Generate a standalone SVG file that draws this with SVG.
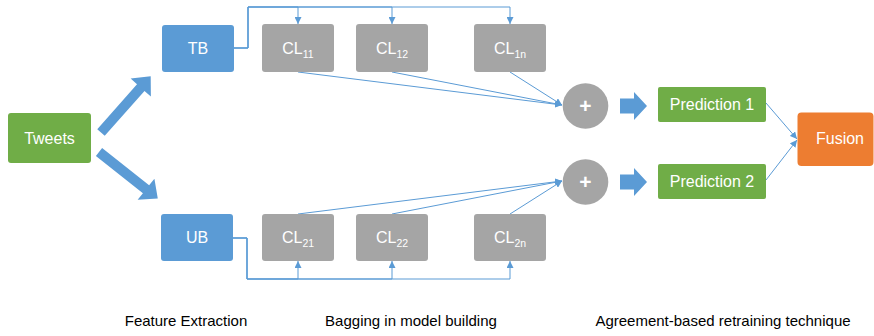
<svg xmlns="http://www.w3.org/2000/svg" width="874" height="336" viewBox="0 0 874 336">
<style>
.lbl{font-family:"Liberation Sans",Arial,sans-serif;font-size:16px;fill:#ffffff;text-anchor:middle}
.sub{font-size:10.5px}
.plus{font-size:21px;font-weight:bold}
.cap{font-family:"Liberation Sans",Arial,sans-serif;font-size:15px;fill:#000000;text-anchor:middle}
.blue{fill:#5B9BD5}
.gray{fill:#A5A5A5}
.green{fill:#70AD47}
.orange{fill:#ED7D31}
.conn{fill:none;stroke:#5B9BD5;stroke-width:1;marker-end:url(#ah)}
.block{fill:#5B9BD5}
</style>
<defs>
<marker id="ah" viewBox="0 0 10 10" refX="10" refY="5" markerWidth="7" markerHeight="7" markerUnits="userSpaceOnUse" orient="auto">
<path d="M0,0 L10,5 L0,10 Z" fill="#5B9BD5"/>
</marker>
<polygon id="diag" points="0,-5 60,-5 60,-13.5 75,0 60,13.5 60,5 0,5"/>
<polygon id="harrow" points="0,-7.5 14,-7.5 14,-14 27,0 14,14 14,7.5 0,7.5"/>
</defs>

<g id="connectors">
<path class="conn" d="M234,48 H248 V7 H298 V24"/>
<path class="conn" d="M234,48 H248 V7 H392 V24"/>
<path class="conn" d="M234,48 H248 V7 H510 V24"/>
<path class="conn" d="M233,238 H247 V279 H298 V261"/>
<path class="conn" d="M233,238 H247 V279 H392 V261"/>
<path class="conn" d="M233,238 H247 V279 H510 V261"/>
<path class="conn" d="M298,72 L562,105"/>
<path class="conn" d="M392,72 L562,105"/>
<path class="conn" d="M510,72 L562,105"/>
<path class="conn" d="M298,214 L562,181"/>
<path class="conn" d="M392,214 L562,181"/>
<path class="conn" d="M510,214 L562,181"/>
<path class="conn" d="M766,103 L797,139"/>
<path class="conn" d="M766,180 L797,140"/>
<use href="#diag" class="block" transform="translate(101,132.5) rotate(-48.5)"/>
<use href="#diag" class="block" transform="translate(99,152) rotate(38.4)"/>
<use href="#harrow" class="block" transform="translate(620,106)"/>
<use href="#harrow" class="block" transform="translate(620,182)"/>
</g>

<g id="tweets">
<rect class="green" x="8" y="113" width="83" height="50" rx="3"/>
<text class="lbl" x="49.5" y="143.5">Tweets</text>
</g>
<g id="tb">
<rect class="blue" x="162" y="25" width="72" height="47" rx="3"/>
<text class="lbl" x="198" y="54">TB</text>
</g>
<g id="ub">
<rect class="blue" x="161" y="214" width="72" height="47" rx="3"/>
<text class="lbl" x="197" y="243">UB</text>
</g>
<g id="cl11">
<rect class="gray" x="262" y="24" width="72" height="48" rx="3"/>
<text class="lbl" x="298" y="54">CL<tspan class="sub" dy="3.5">11</tspan></text>
</g>
<g id="cl12">
<rect class="gray" x="356" y="24" width="72" height="48" rx="3"/>
<text class="lbl" x="392" y="54">CL<tspan class="sub" dy="3.5">12</tspan></text>
</g>
<g id="cl1n">
<rect class="gray" x="474" y="24" width="72" height="48" rx="3"/>
<text class="lbl" x="510" y="54">CL<tspan class="sub" dy="3.5">1n</tspan></text>
</g>
<g id="cl21">
<rect class="gray" x="262" y="214" width="72" height="47" rx="3"/>
<text class="lbl" x="298" y="243">CL<tspan class="sub" dy="3.5">21</tspan></text>
</g>
<g id="cl22">
<rect class="gray" x="356" y="214" width="72" height="47" rx="3"/>
<text class="lbl" x="392" y="243">CL<tspan class="sub" dy="3.5">22</tspan></text>
</g>
<g id="cl2n">
<rect class="gray" x="474" y="214" width="72" height="47" rx="3"/>
<text class="lbl" x="510" y="243">CL<tspan class="sub" dy="3.5">2n</tspan></text>
</g>
<g id="plus1">
<circle class="gray" cx="585.5" cy="106" r="22.8"/>
<text class="lbl plus" x="585.5" y="113">+</text>
</g>
<g id="plus2">
<circle class="gray" cx="585.5" cy="182" r="22.8"/>
<text class="lbl plus" x="585.5" y="189">+</text>
</g>
<g id="pred1">
<rect class="green" x="658" y="87" width="108" height="35" rx="2"/>
<text class="lbl" x="712" y="110">Prediction 1</text>
</g>
<g id="pred2">
<rect class="green" x="658" y="164" width="108" height="35" rx="2"/>
<text class="lbl" x="712" y="187">Prediction 2</text>
</g>
<g id="fusion">
<rect class="orange" x="797.5" y="112.5" width="76" height="53.5" rx="4"/>
<text class="lbl" x="840" y="144">Fusion</text>
</g>

<g id="captions">
<text class="cap" x="186" y="326">Feature Extraction</text>
<text class="cap" x="411" y="326">Bagging in model building</text>
<text class="cap" x="723" y="326">Agreement-based retraining technique</text>
</g>
</svg>
